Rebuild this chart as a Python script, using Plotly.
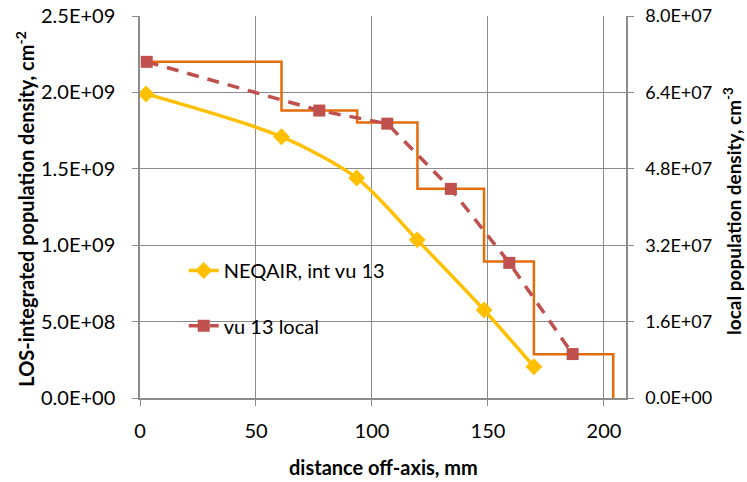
import plotly.graph_objects as go

# NEQAIR integrated (left axis)
neq_x = [2.6, 61.0, 93.4, 119.5, 148.3, 169.8]
neq_y = [1.99e9, 1.71e9, 1.44e9, 1.035e9, 0.576e9, 0.205e9]

# vu 13 local (right axis)
loc_x = [2.9, 77.3, 106.6, 134.0, 159.2, 186.5]
loc_y = [7.04e7, 6.02e7, 5.745e7, 4.38e7, 2.83e7, 0.92e7]

# step profile (right axis)
step_x = [2.6, 61.0, 93.6, 119.6, 148.3, 169.8, 204.0]
step_y = [7.04e7, 6.02e7, 5.77e7, 4.38e7, 2.86e7, 0.915e7, 0.0]

left_ticks = [0, 5e8, 1e9, 1.5e9, 2e9, 2.5e9]
left_text = ["0.0E+00", "5.0E+08", "1.0E+09", "1.5E+09", "2.0E+09", "2.5E+09"]
right_ticks = [0, 1.6e7, 3.2e7, 4.8e7, 6.4e7, 8.0e7]
right_text = ["0.0E+00", "1.6E+07", "3.2E+07", "4.8E+07", "6.4E+07", "8.0E+07"]
x_ticks = [0, 50, 100, 150, 200]

FONT = "Lato"
GRID = "#8c8c8c"

fig = go.Figure()
fig.add_trace(go.Scatter(
    x=step_x, y=step_y, yaxis="y2", mode="lines", line_shape="hv",
    line=dict(color="#E46C0A", width=2.5), showlegend=False))
fig.add_trace(go.Scatter(
    x=loc_x, y=loc_y, yaxis="y2", mode="lines+markers", name="vu 13 local",
    line=dict(color="#C0504D", width=3.5, dash="12px,9px"),
    marker=dict(symbol="square", size=12, color="#C0504D"), legend="legend2"))
fig.add_trace(go.Scatter(
    x=neq_x, y=neq_y, mode="lines+markers", name="NEQAIR, int vu 13",
    line=dict(color="#FFC000", width=3.5, shape="spline", smoothing=0.8),
    marker=dict(symbol="diamond", size=13, color="#FFC000"), legend="legend"))

axis_common = dict(showline=True, linecolor=GRID, linewidth=1.5, ticks="outside",
                   tickcolor=GRID, ticklen=6, zeroline=False, automargin=False)

fig.update_layout(
    width=747, height=482,
    margin=dict(l=140, r=121, t=16, b=84),
    plot_bgcolor="white", paper_bgcolor="white",
    font=dict(family=FONT, size=19, color="#000000"),
    xaxis=dict(range=[0, 209.5], tickvals=x_ticks, showgrid=True, gridcolor=GRID,
               gridwidth=1, ticklabelstandoff=8, tickfont=dict(size=20), **axis_common),
    yaxis=dict(range=[0, 2.5e9], tickvals=left_ticks, ticktext=left_text,
               showgrid=True, gridcolor=GRID, gridwidth=1, ticklabelstandoff=13,
               tickfont=dict(size=20), **axis_common),
    yaxis2=dict(range=[0, 8e7], tickvals=right_ticks, ticktext=right_text,
                overlaying="y", side="right", showgrid=False, ticklabelstandoff=8,
                tickfont=dict(size=18), **axis_common),
    legend=dict(x=0.09, y=0.385, xanchor="left", yanchor="top",
                bgcolor="rgba(0,0,0,0)", font=dict(size=20)),
    legend2=dict(x=0.09, y=0.24, xanchor="left", yanchor="top",
                 bgcolor="rgba(0,0,0,0)", font=dict(size=20)),
    annotations=[
        dict(text="<b>distance off-axis, mm</b>", xref="paper", yref="paper",
             x=0.502, y=-0.181, xanchor="center", yanchor="middle",
             showarrow=False, font=dict(size=20)),
        dict(text="<b>LOS-integrated population density, cm<sup>-2</sup></b>",
             xref="paper", yref="paper", x=-0.237, y=0.495, textangle=-90,
             xanchor="center", yanchor="middle", showarrow=False, font=dict(size=20)),
        dict(text="<b>local population density, cm<sup>-3</sup></b>",
             xref="paper", yref="paper", x=1.2205, y=0.49, textangle=-90,
             xanchor="center", yanchor="middle", showarrow=False, font=dict(size=19)),
    ],
)

fig.write_html("out.html", config={"displayModeBar": False},
               post_script="document.body.style.margin='0';")
